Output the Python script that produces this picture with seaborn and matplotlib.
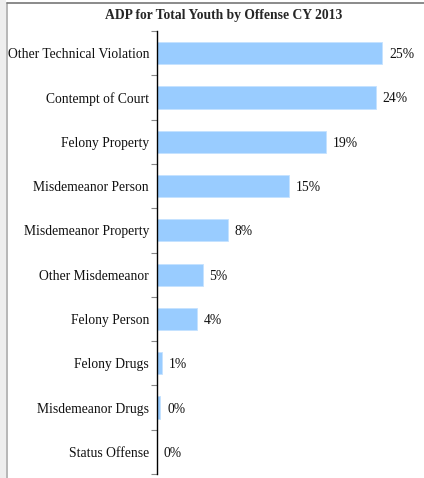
import pandas as pd
import matplotlib.pyplot as plt
import seaborn as sns
from matplotlib.lines import Line2D
from matplotlib.patches import Rectangle

# Offense categories and share of ADP (percent)
offenses = ['Other Technical Violation', 'Contempt of Court', 'Felony Property',
            'Misdemeanor Person', 'Misdemeanor Property', 'Other Misdemeanor',
            'Felony Person', 'Felony Drugs', 'Misdemeanor Drugs', 'Status Offense']
shares = [25.0, 24.3, 18.8, 14.7, 7.9, 5.1, 4.45, 0.62, 0.4, 0.0]

df = pd.DataFrame({'offense': offenses, 'share': shares})

sns.set_style('white')
plt.rcParams['font.family'] = ['Liberation Serif', 'DejaVu Serif']

fig = plt.figure(figsize=(4.24, 4.78), dpi=100)
ax = fig.add_axes([156.7 / 424, 4 / 478, (415 - 156.7) / 424, (447 - 4) / 478])

sns.barplot(data=df, x='share', y='offense', color='#99ccff', width=0.5,
            saturation=1, edgecolor='#c4e2ff', linewidth=0.6, ax=ax)

for i, v in enumerate(shares):
    ax.annotate(f'{round(v):.0f}%', xy=(v, i), xytext=(5, 0), textcoords='offset points',
                ha='left', va='center_baseline', fontsize=9.8, color='#111111')

ax.set_xlim(0, 25 * (415 - 156.7) / 225.3)
ax.set_ylim(len(offenses) - 0.5, -0.5)
ax.set_xlabel('')
ax.set_ylabel('')
ax.set_xticks([])
for s in ['top', 'right', 'bottom']:
    ax.spines[s].set_visible(False)
ax.spines['left'].set_color('black')
ax.spines['left'].set_linewidth(1.0)

ax.set_yticks([i - 0.5 for i in range(len(offenses) + 1)], minor=True)
ax.tick_params(axis='y', which='minor', length=4, color='#888888', width=0.8, left=True)
ax.tick_params(axis='y', which='major', length=0, pad=5.5, labelsize=9.8, labelcolor='#111111')
for lbl in ax.get_yticklabels():
    lbl.set_verticalalignment('center_baseline')

fig.text(224 / 424, 1 - 16 / 478, 'ADP for Total Youth by Offense CY 2013',
         ha='center', va='center', fontsize=9.8, fontweight='bold')

# frame edges from the original screenshot
fig.patches.append(Rectangle((0, 0), 6 / 424, 1, transform=fig.transFigure,
                             facecolor='#eeeeee', edgecolor='none'))
fig.lines.append(Line2D([6.5 / 424, 6.5 / 424], [0, 1 - 3 / 478], transform=fig.transFigure,
                        color='#aaaaaa', linewidth=1.2))
fig.lines.append(Line2D([6.5 / 424, 1], [1 - 3 / 478, 1 - 3 / 478], transform=fig.transFigure,
                        color='#777777', linewidth=1.2))

fig.savefig('out.png', dpi=100)
plt.close()
